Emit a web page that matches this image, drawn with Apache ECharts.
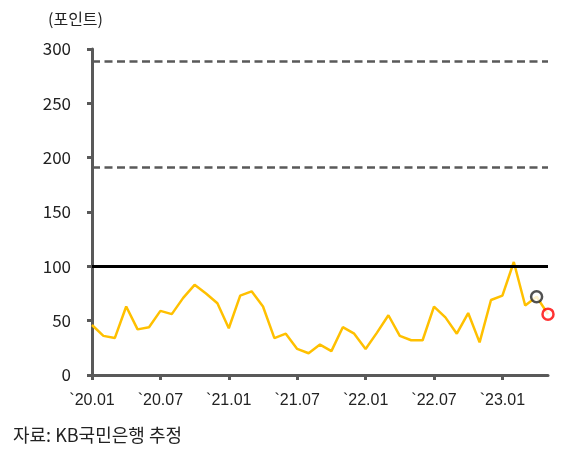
<!DOCTYPE html>
<html>
<head>
<meta charset="utf-8">
<script src="https://cdn.jsdelivr.net/npm/echarts@6/dist/echarts.min.js"></script>
<style>
html,body{margin:0;padding:0;background:#fff;}
#c{width:583px;height:454px;}
</style>
</head>
<body>
<div id="c"></div>
<script>
const categories = [
  "`20.01","`20.02","`20.03","`20.04","`20.05","`20.06","`20.07","`20.08","`20.09","`20.10","`20.11","`20.12",
  "`21.01","`21.02","`21.03","`21.04","`21.05","`21.06","`21.07","`21.08","`21.09","`21.10","`21.11","`21.12",
  "`22.01","`22.02","`22.03","`22.04","`22.05","`22.06","`22.07","`22.08","`22.09","`22.10","`22.11","`22.12",
  "`23.01","`23.02","`23.03","`23.04","`23.05"
];
const values = [
  46, 36, 34, 63, 42, 44, 59, 56, 71, 83, 75, 66,
  43, 73, 77, 63, 34, 38, 24, 20, 28, 22, 44, 38,
  24, 39, 55, 36, 32, 32, 63, 53, 38, 57, 30, 69,
  73, 104, 64, 72, 56
];
const yTicks = { min: 0, max: 300, interval: 50 };
const upperBand = 289;
const lowerBand = 191;
const baseLine = 100;
const blackMarkIndex = 39;
const redMarkIndex = 40;

const FONT = '"Noto Sans CJK KR", "Noto Sans", sans-serif';
const LATIN = '"Liberation Sans", "Noto Sans CJK KR", sans-serif';
const AXIS = '#595959';

const chart = echarts.init(document.getElementById('c'), null, {renderer: 'canvas'});
chart.setOption({
  animation: false,
  backgroundColor: '#fff',
  title: [
    {text: '(포인트)', left: 43, top: 6, textStyle: {fontFamily: FONT, fontSize: 16, fontWeight: 'normal', color: '#222'}},
    {text: '자료: KB국민은행 추정', left: 8, top: 421, textStyle: {fontFamily: FONT, fontSize: 18, fontWeight: 'normal', color: '#222'}}
  ],
  grid: {left: 92, right: 35, top: 49, bottom: 79, containLabel: false},
  xAxis: {
    type: 'category',
    data: categories,
    boundaryGap: false,
    axisLine: {lineStyle: {color: AXIS, width: 3}},
    axisTick: {show: true, interval: 5, length: 5, lineStyle: {color: AXIS, width: 3}},
    axisLabel: {interval: 5, margin: 18, fontFamily: LATIN, fontSize: 16, color: '#222'},
    splitLine: {show: false}
  },
  yAxis: {
    type: 'value',
    min: yTicks.min, max: yTicks.max, interval: yTicks.interval,
    axisLine: {show: true, lineStyle: {color: AXIS, width: 3}},
    axisTick: {show: true, length: 5, lineStyle: {color: AXIS, width: 3}},
    axisLabel: {margin: 21, fontFamily: FONT, fontSize: 17, color: '#222'},
    splitLine: {show: false}
  },
  series: [
    {
      type: 'line',
      data: values,
      showSymbol: false,
      symbol: 'none',
      lineStyle: {color: '#FFC000', width: 2.5},
      itemStyle: {color: '#FFC000'},
      z: 3,
      markLine: {
        silent: true,
        symbol: 'none',
        label: {show: false},
        data: [
          {yAxis: upperBand, lineStyle: {color: AXIS, width: 2.5, type: [8, 4.5]}},
          {yAxis: lowerBand, lineStyle: {color: AXIS, width: 2.5, type: [8, 4.5]}},
          {yAxis: baseLine, lineStyle: {color: '#000', width: 3, type: 'solid'}}
        ]
      }
    },
    {
      type: 'scatter',
      z: 5,
      symbol: 'circle',
      symbolSize: 11,
      data: [
        {value: [blackMarkIndex, values[blackMarkIndex]], itemStyle: {color: '#fff', borderColor: '#262626', borderWidth: 2.5}},
        {value: [redMarkIndex, values[redMarkIndex]], itemStyle: {color: '#fff', borderColor: '#FF0000', borderWidth: 2.5}}
      ]
    }
  ]
});
</script>
</body>
</html>
